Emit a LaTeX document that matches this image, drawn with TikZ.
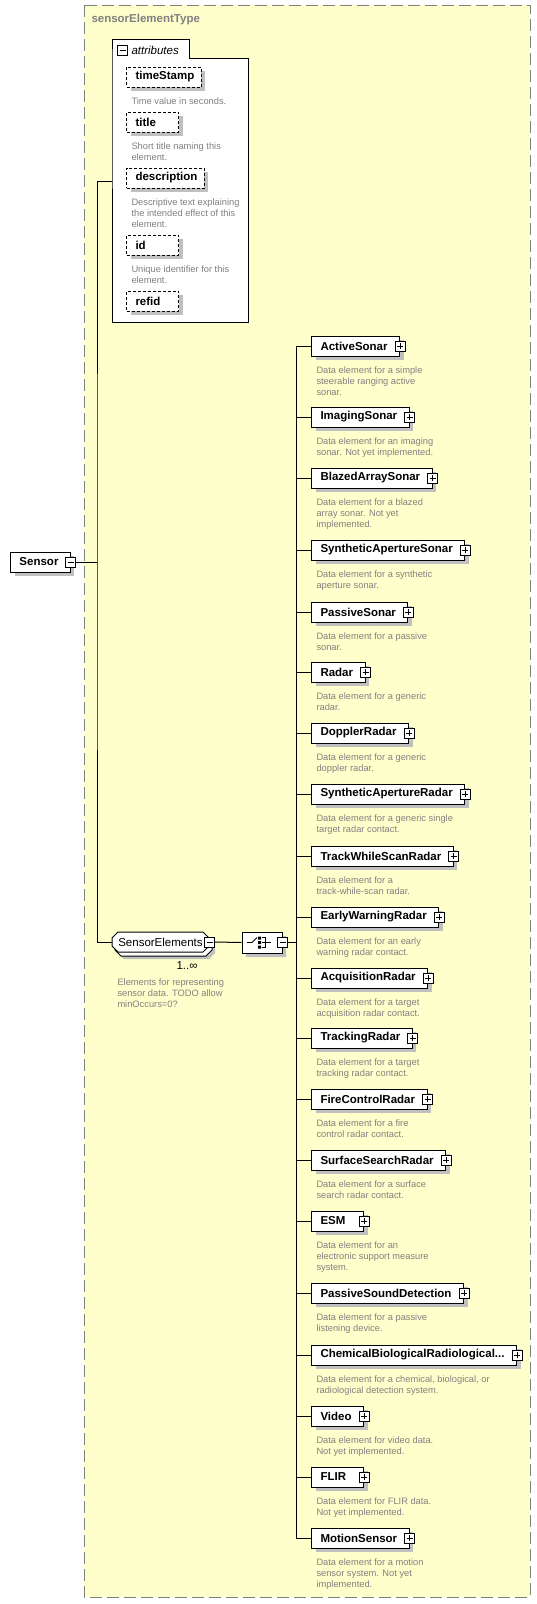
\documentclass[tikz,border=0pt]{standalone}
\usepackage{fontspec}
\setmainfont{Liberation Sans}
\usetikzlibrary{shapes.misc}

\definecolor{frameyellow}{RGB}{255,255,204}
\definecolor{framegray}{RGB}{128,128,128}
\definecolor{shadegray}{RGB}{192,192,192}
\definecolor{descgray}{RGB}{128,128,128}

\newcommand\namefont{\fontsize{11.5}{13}\selectfont\bfseries}
\newcommand\descfont{\fontsize{9.3}{11}\selectfont}
\newcommand\cutname{ChemicalBiologicalRadiological...}
\newsavebox\namebox
% left pad, right pad, minimum text width, text
\newcommand\padname[4]{\sbox\namebox{#4}\hspace*{#1}\ifdim\wd\namebox<#3\makebox[#3][l]{\usebox\namebox}\else\usebox\namebox\fi\hspace*{#2}}

\tikzset{
  shadowed/.style={preaction={fill=shadegray,draw=none,transform canvas={shift={(4pt,-4pt)}}}},
  elbox/.style={draw,fill=white,shadowed,anchor=west,inner sep=0pt,minimum height=20pt,font=\namefont},
  attrbox/.style={elbox,dash pattern=on 3pt off 2pt},
  pmbox/.style={draw,fill=white,solid,inner sep=0pt,minimum size=10pt},
  plusbox/.style={pmbox,path picture={
    \draw ([xshift=-3pt]path picture bounding box.center) -- ([xshift=3pt]path picture bounding box.center)
          ([yshift=-3pt]path picture bounding box.center) -- ([yshift=3pt]path picture bounding box.center);}},
  minusbox/.style={pmbox,path picture={
    \draw ([xshift=-3pt]path picture bounding box.center) -- ([xshift=3pt]path picture bounding box.center);}},
  desc/.style={anchor=north west,inner sep=0pt,align=left,text=descgray,font=\descfont},
  chamfer/.style={chamfered rectangle,chamfered rectangle xsep=3pt,chamfered rectangle ysep=3pt,draw,fill=white,inner sep=0pt},
}

\begin{document}
\begin{tikzpicture}[x=1pt,y=-1pt,line width=1pt]
\useasboundingbox (0,0) rectangle (537,1604);

% complex type frame
\draw[framegray,fill=frameyellow,dash pattern=on 12pt off 5pt] (84,5) rectangle (530,1597);
\node[anchor=west,inner sep=0pt,text=framegray,font=\namefont] (typename) at (91,20) {sensorElementType};

% root element
\node[elbox] (sensor) at (10,562) {\padname{9pt}{12pt}{31pt}{Sensor}};
\node[minusbox] (sensorm) at (sensor.east) {};

% attributes group
\draw[fill=white] (112,58) |- (189,39) |- (248,58) |- (112,322) -- cycle;
\coordinate (attrin) at (112,181);
\node[minusbox] (attrm) at (122.5,50) {};
\node[anchor=west,inner sep=0pt,font=\fontsize{11.5}{13}\selectfont\itshape] (attrlbl) at (131,50) {attributes};
\foreach \nm/\lbl/\yy/\dsc in {
  ts/timeStamp/77/{Time value in seconds.},
  ti/title/122/{Short title naming this\\element.},
  de/description/178/{Descriptive text explaining\\the intended effect of this\\element.},
  id/id/245/{Unique identifier for this\\element.}}
{
  \node[attrbox] (\nm) at (126,\yy) {\padname{9pt}{7pt}{36pt}{\lbl}};
  \node[desc] (\nm-d) at (131,\yy+20) {\dsc};
}
\node[attrbox] (rf) at (126,301) {\padname{9pt}{7pt}{36pt}{refid}};

% SensorElements and its sequence
\node[chamfer,minimum width=97pt,minimum height=20pt,font=\fontsize{11.5}{13}\selectfont,
  preaction={fill=shadegray,draw=none,transform canvas={shift={(6pt,-7pt)}}},
  preaction={fill=white,draw=black,transform canvas={shift={(3pt,-4pt)}}}] (sel) at (160.5,942) {SensorElements};
\node[minusbox] (selm) at (sel.east) {};
\node[inner sep=0pt,font=\fontsize{11.5}{13}\selectfont] (selcard) at (187,966) {1..∞};
\node[desc] (sel-d) at (117,978) {Elements for representing\\sensor data. TODO allow\\minOccurs=0?};

\node[chamfer,shadowed,minimum width=40pt,minimum height=21pt,chamfered rectangle xsep=5pt,chamfered rectangle ysep=5pt] (seq) at (262,942.5) {};
\begin{scope}[shift={(seq.center)},xshift=-3pt,line width=0.8pt]
  \draw (-12,0) -- (-7,0) -- (-2,-5);
  \fill (-1,-6) rectangle (2,-3) (-1,-1.5) rectangle (2,1.5) (-1,3) rectangle (2,6);
  \draw (3,-5) -- (6,-5) -- (6,5) -- (3,5) (3,0) -- (12,0);
\end{scope}
\node[minusbox] (seqm) at (seq.east) {};
\coordinate (fork) at (97,562);
\coordinate (spine) at (296,942.5);

% child elements
\foreach \nm/\lbl/\yy/\dsc in {
  as/ActiveSonar/346/{Data element for a simple\\steerable ranging active\\sonar.},
  is/ImagingSonar/417/{Data element for an imaging\\sonar. Not yet implemented.},
  bas/BlazedArraySonar/478/{Data element for a blazed\\array sonar. Not yet\\implemented.},
  sas/SyntheticApertureSonar/550/{Data element for a synthetic\\aperture sonar.},
  ps/PassiveSonar/612/{Data element for a passive\\sonar.},
  rd/Radar/672/{Data element for a generic\\radar.},
  dr/DopplerRadar/733/{Data element for a generic\\doppler radar.},
  sar/SyntheticApertureRadar/794/{Data element for a generic single\\target radar contact.},
  tws/TrackWhileScanRadar/856/{Data element for a\\track-while-scan radar.},
  ew/EarlyWarningRadar/917/{Data element for an early\\warning radar contact.},
  aq/AcquisitionRadar/978/{Data element for a target\\acquisition radar contact.},
  tr/TrackingRadar/1038/{Data element for a target\\tracking radar contact.},
  fc/FireControlRadar/1099/{Data element for a fire\\control radar contact.},
  ss/SurfaceSearchRadar/1160/{Data element for a surface\\search radar contact.},
  esm/ESM/1221/{Data element for an\\electronic support measure\\system.},
  psd/PassiveSoundDetection/1293/{Data element for a passive\\listening device.},
  cbr/\cutname/1355/{Data element for a chemical, biological, or\\radiological detection system.},
  vid/Video/1416/{Data element for video data.\\Not yet implemented.},
  flir/FLIR/1477/{Data element for FLIR data.\\Not yet implemented.},
  ms/MotionSensor/1538/{Data element for a motion\\sensor system. Not yet\\implemented.}}
{
  \node[elbox] (\nm) at (311,\yy) {\padname{9pt}{12pt}{31pt}{\lbl}};
  \node[plusbox] (\nm-p) at (\nm.east) {};
  \node[desc] (\nm-d) at (316,\yy+20) {\dsc};
  \draw (\nm.west) -- (\nm.west -| spine);
}

% connectors
\draw (sensorm.east) -- (fork);
\draw (attrin) -| (fork) |- (sel.west);
\draw (selm.east) -- (seq.west);
\draw (seqm.east) -- (spine);
\draw (as.west -| spine) -- (ms.west -| spine);
\end{tikzpicture}
\end{document}
